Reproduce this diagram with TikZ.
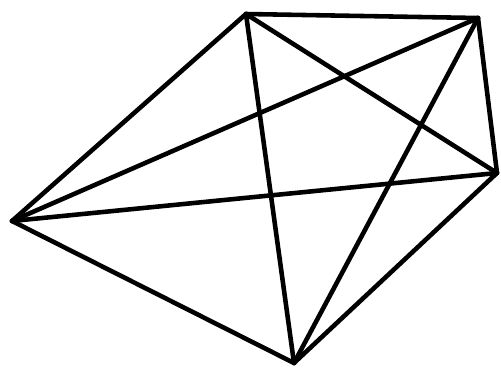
\documentclass[tikz,border=0pt]{standalone}
\usepackage{tikz}

\begin{document}
\begin{tikzpicture}[
  x=0.02cm, y=0.02cm,
  edge/.style={line width=2.6pt, line cap=round, line join=round}
]
  \useasboundingbox (0,0) rectangle (501,370);

  % Vertices
  \coordinate (top)    at (246,356);
  \coordinate (topr)   at (478,352);
  \coordinate (right)  at (497,197);
  \coordinate (bottom) at (294,7);
  \coordinate (left)   at (12,149);

  % Outer pentagon
  \draw[edge] (top) -- (topr);
  \draw[edge] (topr) -- (right);
  \draw[edge] (right) -- (bottom);
  \draw[edge] (bottom) -- (left);
  \draw[edge] (left) -- (top);

  % Diagonals
  \draw[edge] (top) -- (right);
  \draw[edge] (top) -- (bottom);
  \draw[edge] (topr) -- (left);
  \draw[edge] (topr) -- (bottom);
  \draw[edge] (right) -- (left);
\end{tikzpicture}
\end{document}
